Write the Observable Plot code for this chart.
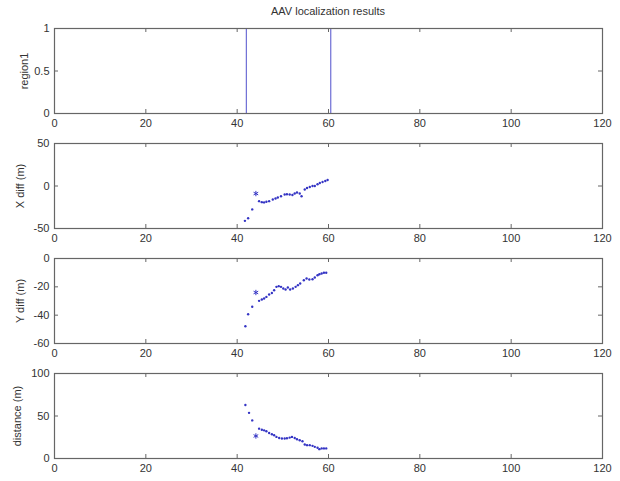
<!DOCTYPE html>
<html><head><meta charset="utf-8">
<script src="https://cdn.jsdelivr.net/npm/d3@7"></script>
<script src="https://cdn.jsdelivr.net/npm/@observablehq/plot@0.6"></script>
<style>
body{margin:0;background:#fff}
#c{position:relative;width:620px;height:481px;font-family:"Liberation Sans",Arial,sans-serif;overflow:hidden}
#title{position:absolute;left:54px;width:548px;top:5px;text-align:center;font-size:11px;color:#333}
#c svg{position:absolute;left:0}
</style>
</head><body>
<div id="c"><div id="title">AAV localization results</div></div>
<script>
// ---- data ----
const title = "AAV localization results";
const xTicks = [0, 20, 40, 60, 80, 100, 120];

// panel 1: region1 indicator (0/1)
const regionT = [0, 42, 42, 60.5, 60.5, 120];
const regionV = [0, 0, 1, 1, 0, 0];
const regionTicks = [0, 0.5, 1];

// panel 2: X diff (m)
const xdiffT = [41.7, 42.4, 43.3, 44.8, 45.4, 45.9, 46.4, 47.0, 47.8, 48.4, 48.9, 49.6, 50.4, 50.9, 51.5, 52.1, 52.6, 53.1, 53.7, 54.1, 54.8, 55.3, 55.9, 56.5, 57.0, 57.6, 58.1, 58.7, 59.3, 59.8];
const xdiffV = [-41, -37.9, -27.5, -17.8, -19, -19.3, -18.6, -17.8, -15.8, -14.7, -13.5, -12, -10, -9.7, -10, -10.5, -8.9, -7.7, -8.9, -12, -4.2, -2.3, -1.2, 0, 0, 2, 3.5, 4.7, 5.8, 7];
const xdiffStarT = [44.1];
const xdiffStarV = [-8.9];
const xdiffTicks = [-50, 0, 50];

// panel 3: Y diff (m)
const ydiffT = [41.8, 42.4, 43.3, 44.8, 45.4, 45.9, 46.4, 47.0, 47.6, 48.1, 48.6, 49.1, 49.6, 50.1, 50.6, 51.1, 51.6, 52.2, 52.8, 53.3, 53.8, 54.6, 55.2, 55.8, 56.5, 57.0, 57.6, 58.0, 58.5, 59.0, 59.5];
const ydiffV = [-47.8, -39.3, -34.1, -29.9, -28.9, -28.2, -27.1, -25.4, -24.3, -22.4, -20.0, -19.5, -20.0, -21.2, -21.9, -20.5, -21.9, -21.2, -20.0, -18.8, -17.6, -15.3, -14.1, -14.8, -14.6, -13.4, -11.8, -11.1, -10.6, -10.1, -10.1];
const ydiffStarT = [44.1];
const ydiffStarV = [-24.0];
const ydiffTicks = [-60, -40, -20, 0];

// panel 4: distance (m)
const distT = [41.8, 42.6, 43.3, 44.8, 45.4, 45.9, 46.4, 47.0, 47.6, 48.1, 48.6, 49.2, 49.8, 50.4, 50.9, 51.5, 52.0, 52.6, 53.1, 53.7, 54.3, 54.8, 55.3, 55.9, 56.5, 57.0, 57.6, 58.0, 58.5, 59.0, 59.5];
const distV = [63.0, 53.7, 44.8, 35.1, 33.9, 33.1, 32.0, 30.0, 28.5, 27.3, 25.4, 24.2, 23.5, 23.5, 23.8, 24.6, 25.4, 24.2, 22.7, 21.5, 20.3, 16.5, 15.7, 15.7, 14.9, 13.7, 12.6, 11.0, 11.9, 11.9, 11.9];
const distStarT = [44.1];
const distStarV = [26.5];
const distTicks = [0, 50, 100];

// ---- drawing ----
const zip = (t, v) => t.map((x, i) => ({t: x, v: v[i]}));
const axisColor = "#666";
const dataColor = "#3434c4";
const fmt = d => String(d);
const PH = 85, PW = 548, MT = 20, MB = 26;

function panel({top, domain, ticks, label, labelOffset, marks}) {
  const svg = Plot.plot({
    width: 620, height: MT + PH + MB,
    marginTop: MT, marginBottom: MB, marginLeft: 54, marginRight: 18,
    x: {domain: [0, 120]},
    y: {domain},
    style: {fontSize: "11px", fontFamily: "'Liberation Sans', Arial, sans-serif", color: "#333", background: "transparent", overflow: "visible"},
    marks: [
      ...marks,
      Plot.frame({stroke: axisColor, strokeWidth: 1.2}),
      Plot.gridX(xTicks, {insetTop: PH - 4, stroke: axisColor, strokeOpacity: 1}),
      Plot.gridX(xTicks, {insetBottom: PH - 4, stroke: axisColor, strokeOpacity: 1}),
      Plot.gridY(ticks, {insetRight: PW - 4, stroke: axisColor, strokeOpacity: 1}),
      Plot.gridY(ticks, {insetLeft: PW - 4, stroke: axisColor, strokeOpacity: 1}),
      Plot.axisX(xTicks, {tickSize: 0, tickPadding: 6, tickFormat: fmt, label: null}),
      Plot.axisY(ticks, {tickSize: 0, tickPadding: 5, tickFormat: fmt, label, labelAnchor: "center", labelOffset, labelArrow: "none"})
    ]
  });
  svg.style.top = (top - MT) + "px";
  document.getElementById("c").appendChild(svg);
}

panel({top: 28, domain: [0, 1], ticks: regionTicks, label: "region1", labelOffset: 34,
  marks: [Plot.line(zip(regionT, regionV), {x: "t", y: "v", stroke: "#5050cc", strokeWidth: 1})]});

function dotsMarks(t, v, st, sv) {
  return [
    Plot.dot(zip(t, v), {x: "t", y: "v", r: 1.2, fill: dataColor, stroke: null}),
    Plot.dot(zip(st, sv), {x: "t", y: "v", r: 2.5, symbol: "asterisk", stroke: dataColor, strokeWidth: 1})
  ];
}

panel({top: 143, domain: [-50, 50], ticks: xdiffTicks, label: "X diff (m)", labelOffset: 38,
  marks: dotsMarks(xdiffT, xdiffV, xdiffStarT, xdiffStarV)});
panel({top: 258, domain: [-60, 0], ticks: ydiffTicks, label: "Y diff (m)", labelOffset: 38,
  marks: dotsMarks(ydiffT, ydiffV, ydiffStarT, ydiffStarV)});
panel({top: 373, domain: [0, 100], ticks: distTicks, label: "distance (m)", labelOffset: 41,
  marks: dotsMarks(distT, distV, distStarT, distStarV)});
</script>
</body></html>
